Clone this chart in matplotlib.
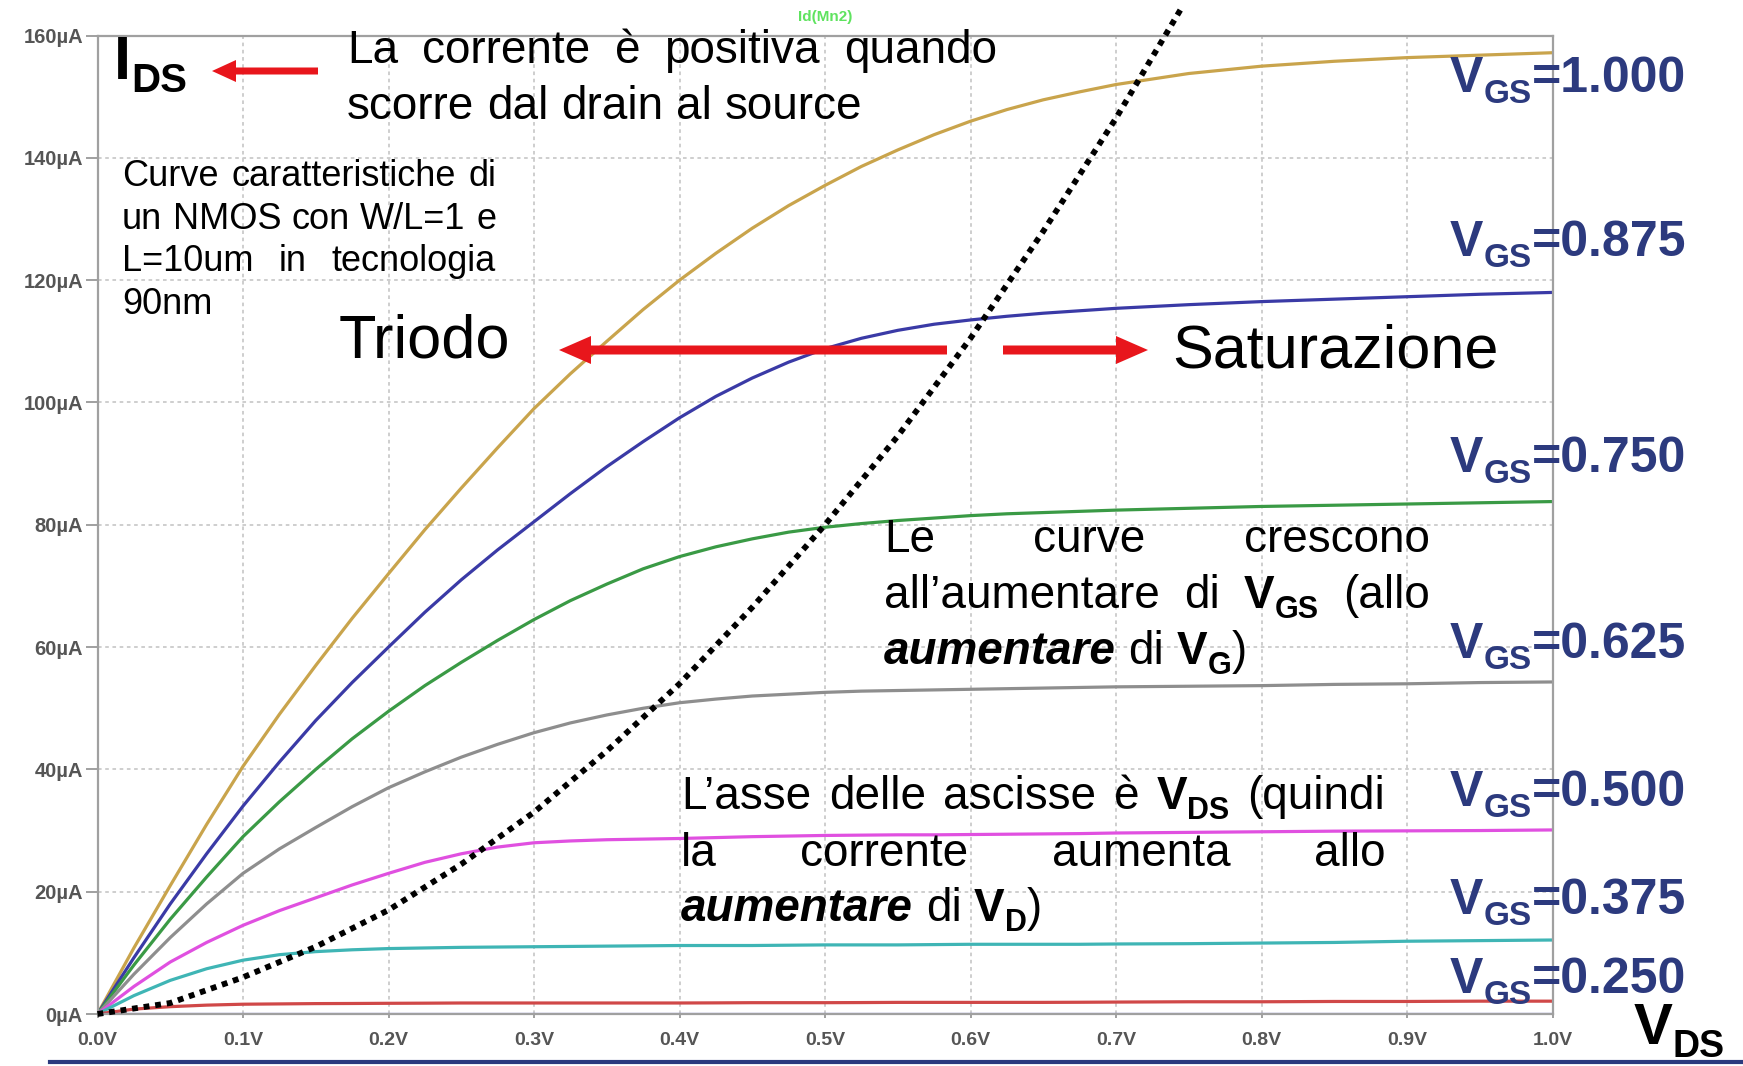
import matplotlib
matplotlib.use("Agg")
import matplotlib.pyplot as plt
from matplotlib.patches import FancyArrow
from matplotlib.lines import Line2D
from matplotlib.transforms import IdentityTransform

W, H, DPI = 1743, 1066, 100

# ---------------- data ----------------
vds = [0.000, 0.025, 0.050, 0.075, 0.100, 0.125, 0.150, 0.175, 0.200, 0.225,
       0.250, 0.275, 0.300, 0.325, 0.350, 0.375, 0.400, 0.425, 0.450, 0.475,
       0.500, 0.525, 0.550, 0.575, 0.600, 0.625, 0.650, 0.675, 0.700,
       0.750, 0.800, 0.850, 0.900, 0.950, 1.000]
id_1000 = [0, 10.8, 21, 31, 40.5, 49, 57, 64.7, 72, 79.2,
           86, 92.6, 99, 104.7, 110, 115.2, 120, 124.4, 128.5, 132.2,
           135.5, 138.6, 141.3, 143.8, 146, 147.9, 149.5, 150.8, 152,
           153.8, 155, 155.8, 156.4, 156.8, 157.2]
id_0875 = [0, 9.2, 18, 26.2, 34, 41.2, 48, 54.2, 60, 65.7,
           71, 75.9, 80.5, 85.1, 89.5, 93.6, 97.5, 101, 104, 106.6,
           108.8, 110.5, 111.8, 112.8, 113.5, 114.1, 114.6, 115, 115.4,
           116, 116.5, 116.9, 117.3, 117.7, 118]
id_0750 = [0, 8, 15.5, 22.4, 29, 34.7, 40, 45, 49.5, 53.7,
           57.5, 61.1, 64.5, 67.6, 70.3, 72.8, 74.8, 76.4, 77.7, 78.8,
           79.6, 80.2, 80.7, 81.1, 81.5, 81.8, 82, 82.2, 82.4,
           82.7, 83, 83.2, 83.4, 83.6, 83.8]
id_0625 = [0, 6.5, 12.5, 18, 23, 27, 30.5, 33.9, 37, 39.6,
           42, 44.1, 46, 47.6, 48.9, 50, 50.9, 51.5, 52, 52.3,
           52.6, 52.8, 52.9, 53, 53.1, 53.2, 53.3, 53.4, 53.5,
           53.6, 53.7, 53.9, 54, 54.2, 54.3]
id_0500 = [0, 4.5, 8.5, 11.7, 14.5, 16.9, 19, 21.1, 23, 24.8,
           26.2, 27.3, 28, 28.3, 28.5, 28.6, 28.7, 28.85, 29, 29.1,
           29.2, 29.25, 29.3, 29.3, 29.35, 29.4, 29.45, 29.5, 29.6,
           29.7, 29.8, 29.9, 29.95, 30, 30.1]
id_0375 = [0, 3, 5.5, 7.4, 8.8, 9.7, 10.2, 10.5, 10.7, 10.8,
           10.9, 10.95, 11, 11.05, 11.1, 11.15, 11.2, 11.2, 11.2, 11.25,
           11.3, 11.3, 11.3, 11.35, 11.4, 11.4, 11.4, 11.4, 11.45,
           11.5, 11.6, 11.7, 11.9, 12.0, 12.1]
id_0250 = [0, 0.8, 1.2, 1.45, 1.6, 1.65, 1.7, 1.72, 1.75, 1.77,
           1.8, 1.8, 1.8, 1.8, 1.8, 1.8, 1.8, 1.82, 1.85, 1.85,
           1.85, 1.87, 1.9, 1.9, 1.9, 1.9, 1.9, 1.92, 1.95,
           2.0, 2.0, 2.05, 2.05, 2.1, 2.1]
id_base = [0, 0, 0, 0, 0, 0, 0, 0, 0, 0,
           0, 0, 0, 0, 0, 0, 0, 0, 0, 0,
           0, 0, 0, 0, 0, 0, 0, 0, 0,
           0, 0, 0, 0, 0, 0]

curves = [id_1000, id_0875, id_0750, id_0625, id_0500, id_0375, id_0250, id_base]
curve_colors = ['#C9A44C', '#3A3AA6', '#3A9A45', '#8E8E8E', '#E050E0',
                '#3FB5B5', '#D04848', '#3636C0']

vgs_labels = ['1.000', '0.875', '0.750', '0.625', '0.500', '0.375', '0.250']

sat_vds = [0.0, 0.05, 0.10, 0.15, 0.20, 0.25, 0.30, 0.35, 0.40, 0.45,
           0.50, 0.55, 0.60, 0.65, 0.70, 0.745]
sat_id = [0.0, 1.8, 6.0, 11.0, 17.0, 24.5, 33.0, 43.0, 54.0, 66.5,
          80.0, 94.5, 110.5, 128.0, 146.5, 164.5]

yticks = [0, 20, 40, 60, 80, 100, 120, 140, 160]
ytick_labels = ['0µA', '20µA', '40µA', '60µA', '80µA', '100µA', '120µA', '140µA', '160µA']
xticks = [0.0, 0.1, 0.2, 0.3, 0.4, 0.5, 0.6, 0.7, 0.8, 0.9, 1.0]
xtick_labels = ['0.0V', '0.1V', '0.2V', '0.3V', '0.4V', '0.5V', '0.6V', '0.7V', '0.8V', '0.9V', '1.0V']

# ---------------- figure ----------------
plt.rcParams['font.family'] = ['Liberation Sans', 'DejaVu Sans']
fig = plt.figure(figsize=(W / DPI, H / DPI), dpi=DPI)
fig.patch.set_facecolor('white')

x_left, x_right = 97.5, 1552.5
y_top, y_bot = 35.6, 1014.0
ax = fig.add_axes([x_left / W, 1 - y_bot / H, (x_right - x_left) / W, (y_bot - y_top) / H])
ax.set_xlim(0, 1)
ax.set_ylim(0, 160)
ax.set_axisbelow(True)
ax.grid(True, color='#CACACA', lw=1.3, ls=(0, (2, 2)))
for s in ax.spines.values():
    s.set_color('#A0A0A0')
    s.set_linewidth(1.6)

ax.set_yticks(yticks)
ax.set_yticklabels(ytick_labels, fontsize=14.5, fontweight='bold', color='#555555')
ax.set_xticks(xticks)
ax.set_xticklabels(xtick_labels, fontsize=14, fontweight='bold', color='#555555')
ax.tick_params(axis='y', length=8.5, width=1.2, color='#909090', pad=2)
ax.tick_params(axis='x', length=3, width=1.2, color='#909090', pad=10)

for ys, c in zip(curves, curve_colors):
    ax.plot(vds, ys, color=c, lw=2.3, solid_capstyle='butt', solid_joinstyle='round')

ax.plot(sat_vds, sat_id, color='black', lw=4.2, ls=(0, (1, 1)), clip_on=False, zorder=5)

# ---------------- annotations ----------------
renderer = fig.canvas.get_renderer()
IT = IdentityTransform()


def mk(s, size, weight='normal', style='normal', dy=0, color='black'):
    return dict(s=s, size=size, weight=weight, style=style, dy=dy, color=color)


def draw_runs(x, yb, runs):
    objs = []
    cx = x
    for r in runs:
        t = fig.text(cx, H - yb - r['dy'], r['s'], transform=IT,
                     fontsize=r['size'], fontweight=r['weight'], fontstyle=r['style'],
                     color=r['color'], ha='left', va='baseline', zorder=6)
        w = t.get_window_extent(renderer=renderer).width
        cx += w
        objs.append(t)
    return cx - x, objs


def space_w(size):
    t1 = fig.text(0, 0, 'n n', fontsize=size, transform=IT)
    t2 = fig.text(0, 0, 'nn', fontsize=size, transform=IT)
    w = t1.get_window_extent(renderer).width - t2.get_window_extent(renderer).width
    t1.remove()
    t2.remove()
    return w


def text_line(words, x0, yb, size, x1=None):
    wlist = []
    for wd in words:
        if isinstance(wd, str):
            wd = [mk(wd, size)]
        w, objs = draw_runs(0, yb, wd)
        wlist.append((w, objs))
    if x1 is None or len(wlist) < 2:
        gap = space_w(size)
    else:
        gap = (x1 - x0 - sum(w for w, _ in wlist)) / (len(wlist) - 1)
    cx = x0
    for w, objs in wlist:
        for t in objs:
            px, py = t.get_position()
            t.set_x(px + cx)
        cx += w + gap


def arrow(x_tail, x_tip, y, width, hw, hl):
    a = FancyArrow(x_tail, H - y, x_tip - x_tail, 0, width=width, head_width=hw,
                   head_length=hl, length_includes_head=True, transform=IT,
                   color='#E8161C', lw=0, zorder=4)
    fig.add_artist(a)


# I_DS label and arrow
draw_runs(114, 79, [mk('I', 44, 'bold'), mk('DS', 29, 'bold', dy=13)])
arrow(318, 212, 71, 7, 22, 24)

# top note
TS = 33
text_line(['La', 'corrente', 'è', 'positiva', 'quando'], 347, 63, TS, x1=997)
text_line(['scorre', 'dal', 'drain', 'al', 'source'], 347, 119, TS)

# small description
SS = 26
text_line(['Curve', 'caratteristiche', 'di'], 122, 186, SS, x1=496)
text_line(['un', 'NMOS', 'con', 'W/L=1', 'e'], 122, 229, SS, x1=496)
text_line(['L=10um', 'in', 'tecnologia'], 122, 271, SS, x1=496)
text_line(['90nm'], 122, 314, SS)

# Triodo / Saturazione
draw_runs(339, 358, [mk('Triodo', 44)])
draw_runs(1172, 367, [mk('Saturazione', 44)])
arrow(947, 559, 350, 9, 28, 32)
arrow(1003, 1148, 350, 9, 28, 32)

# block A
BS = 33
SUBS = 22
text_line(['Le', 'curve', 'crescono'], 884, 552, BS, x1=1430)
text_line(['all’aumentare', 'di',
           [mk('V', BS, 'bold'), mk('GS', SUBS, 'bold', dy=10)], '(allo'],
          884, 608, BS, x1=1430)
text_line([[mk('aumentare', BS, 'bold', 'italic')], 'di',
           [mk('V', BS, 'bold'), mk('G', SUBS, 'bold', dy=10), mk(')', BS)]],
          884, 664, BS)

# block B
text_line(['L’asse', 'delle', 'ascisse', 'è',
           [mk('V', BS, 'bold'), mk('DS', SUBS, 'bold', dy=10)], '(quindi'],
          681, 809, BS, x1=1385)
text_line(['la', 'corrente', 'aumenta', 'allo'], 681, 866, BS, x1=1385)
text_line([[mk('aumentare', BS, 'bold', 'italic')], 'di',
           [mk('V', BS, 'bold'), mk('D', SUBS, 'bold', dy=10), mk(')', BS)]],
          681, 921, BS)

# right-side VGS labels
NAVY = '#2C3A7E'
label_baselines = [92, 256, 472, 658, 806, 914, 993]
for lab, yb in zip(vgs_labels, label_baselines):
    draw_runs(1450, yb, [mk('V', 36, 'bold', color=NAVY),
                         mk('GS', 24, 'bold', dy=11, color=NAVY),
                         mk('=' + lab, 36, 'bold', color=NAVY)])

# V_DS axis label
draw_runs(1634, 1044, [mk('V', 42, 'bold'), mk('DS', 27, 'bold', dy=13)])

# trace name
fig.text(825, H - 17, 'Id(Mn2)', transform=IT, fontsize=11, fontweight='bold',
         color='#5FE35F', ha='center', va='center')

# slide decoration line
fig.add_artist(Line2D([50, W], [H - 1062, H - 1062], transform=IT,
                      color=NAVY, lw=3))

fig.savefig('out.png', dpi=DPI)
